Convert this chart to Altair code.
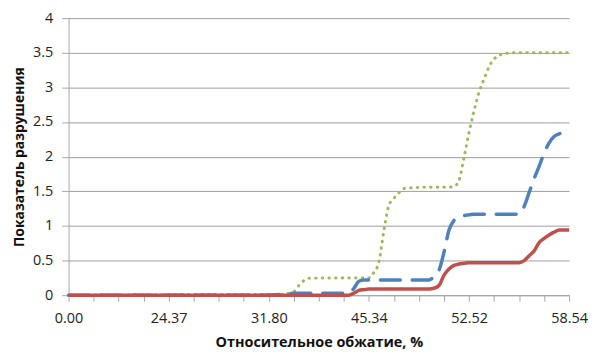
import json
import altair as alt
import pandas as pd

# category index positions (101 categories, 0..100) where values were read
x_idx = [0, 32, 40, 42, 44, 45, 46, 47, 48, 56, 57, 58, 59, 60, 61, 62, 63, 64, 65, 66,
         67, 72, 73, 74, 75, 76, 77, 78, 79, 80, 81, 82, 83, 84, 85, 86, 87, 90, 91, 92,
         93, 94, 95, 96, 97, 98, 100]

green = [0, 0.01, 0.01, 0.01, 0.03, 0.05, 0.14, 0.21, 0.245, 0.25, 0.25, 0.25, 0.25, 0.25, 0.33, 0.48, 0.94, 1.3, 1.4, 1.48,
         1.54, 1.56, 1.56, 1.56, 1.56, 1.56, 1.57, 1.66, 1.99, 2.35, 2.66, 2.93, 3.12, 3.3, 3.41, 3.46, 3.49, 3.5, 3.5, 3.5,
         3.5, 3.5, 3.5, 3.5, 3.5, 3.5, 3.5]

blue = [0, 0, 0, 0.01, 0.02, 0.03, 0.03, 0.03, 0.03, 0.03, 0.1, 0.2, 0.22, 0.22, 0.22, 0.22, 0.22, 0.22, 0.22, 0.22,
        0.22, 0.22, 0.27, 0.36, 0.62, 0.94, 1.08, 1.13, 1.15, 1.16, 1.17, 1.17, 1.17, 1.17, 1.17, 1.17, 1.17, 1.17, 1.28, 1.48,
        1.68, 1.86, 2.05, 2.2, 2.29, 2.33, 2.37]

red = [0, 0, 0, 0, 0, 0, 0, 0, 0, 0, 0.03, 0.07, 0.08, 0.09, 0.09, 0.09, 0.09, 0.09, 0.09, 0.09,
       0.09, 0.09, 0.1, 0.14, 0.29, 0.38, 0.43, 0.45, 0.46, 0.47, 0.47, 0.47, 0.47, 0.47, 0.47, 0.47, 0.47, 0.47, 0.5, 0.57,
       0.64, 0.76, 0.82, 0.87, 0.91, 0.94, 0.94]

x_tick_labels = ["0.00", "24.37", "31.80", "45.34", "52.52", "58.54"]
x_tick_values = list(range(0, 101, 5))
y_tick_values = [0, 0.5, 1, 1.5, 2, 2.5, 3, 3.5, 4]

rows = []
for name, vals in [("green", green), ("blue", blue), ("red", red)]:
    for i, v in zip(x_idx, vals):
        rows.append({"series": name, "idx": i, "value": v})
df = pd.DataFrame(rows)

FONT = "Open Sans"
label_expr = "datum.value % 20 == 0 ? " + json.dumps(x_tick_labels) + "[datum.value / 20] : ''"

x_enc = alt.X(
    "idx:Q",
    scale=alt.Scale(domain=[0, 100], nice=False, zero=False),
    axis=alt.Axis(
        values=x_tick_values, labelExpr=label_expr, grid=False,
        tickSize=6, tickColor="#a6a6a6", domainColor="#a6a6a6",
        labelFlush=False, labelOverlap=False, labelPadding=10,
        labelFont=FONT, labelFontSize=14.5, labelColor="#222222",
        title="Относительное обжатие, %", titleFont=FONT, titleFontSize=14.5,
        titleFontWeight="bold", titleColor="#111111",
        titleY=52, titleBaseline="alphabetic",
    ),
)
y_enc = alt.Y(
    "value:Q",
    scale=alt.Scale(domain=[0, 4], nice=False),
    axis=alt.Axis(
        values=y_tick_values, format="~g", grid=True, gridColor="#9e9e9e", gridWidth=1,
        tickSize=7, tickColor="#a6a6a6", domainColor="#a6a6a6",
        labelPadding=9, labelFont=FONT, labelFontSize=14.5, labelColor="#222222",
        title="Показатель разрушения", titleFont=FONT, titleFontSize=14,
        titleFontWeight="bold", titleColor="#111111",
        titleAngle=270, titleX=-45, titleY=139.5, titleAlign="center",
        titleBaseline="alphabetic",
    ),
)

base = alt.Chart(df).encode(x=x_enc, y=y_enc)

green_line = base.transform_filter(alt.datum.series == "green").mark_line(
    color="#9BBB59", strokeWidth=3, strokeDash=[0.5, 6.2], strokeCap="round",
    interpolate="monotone")
blue_line = base.transform_filter(alt.datum.series == "blue").mark_line(
    color="#4F81BD", strokeWidth=3.5, strokeDash=[20, 12], strokeCap="round",
    interpolate="monotone")
red_line = base.transform_filter(alt.datum.series == "red").mark_line(
    color="#C0504D", strokeWidth=3.5, interpolate="monotone")

chart = alt.layer(green_line, blue_line, red_line).properties(
    width=504, height=279,
    autosize=alt.AutoSizeParams(type="none"),
    padding={"left": 61, "top": 9, "right": 20, "bottom": 56},
).configure_view(stroke=None)

chart.save("out.html", embed_options={"renderer": "svg", "actions": False})
